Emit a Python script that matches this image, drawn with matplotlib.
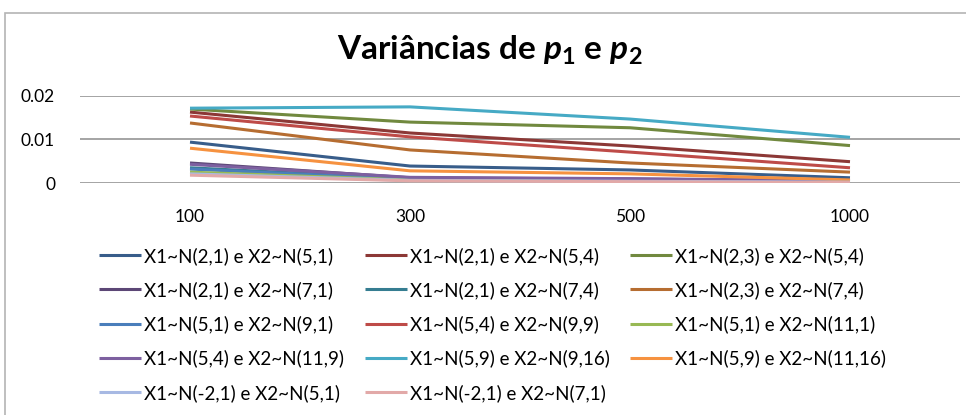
"""Variâncias de p1 e p2 -- line chart recreated from an Excel-style figure."""

import matplotlib

matplotlib.use("Agg")
import matplotlib.patches as mp  # noqa: E402
import matplotlib.pyplot as plt  # noqa: E402

plt.rcParams.update({"font.family": ["Lato", "DejaVu Sans"], "figure.dpi": 100,
                     "mathtext.fontset": "custom", "mathtext.bf": "Lato:bold",
                     "mathtext.it": "Lato:italic", "mathtext.rm": "Lato",
                     "mathtext.bfit": "Lato:bold:italic"})

sizes = ["100", "300", "500", "1000"]

labels = ["X1~N(2,1) e X2~N(5,1)", "X1~N(2,1) e X2~N(5,4)", "X1~N(2,3) e X2~N(5,4)",
          "X1~N(2,1) e X2~N(7,1)", "X1~N(2,1) e X2~N(7,4)", "X1~N(2,3) e X2~N(7,4)",
          "X1~N(5,1) e X2~N(9,1)", "X1~N(5,4) e X2~N(9,9)", "X1~N(5,1) e X2~N(11,1)",
          "X1~N(5,4) e X2~N(11,9)", "X1~N(5,9) e X2~N(9,16)", "X1~N(5,9) e X2~N(11,16)",
          "X1~N(-2,1) e X2~N(5,1)", "X1~N(-2,1) e X2~N(7,1)"]

v_21_51 = [0.0094, 0.0039, 0.0030, 0.0012]
v_21_54 = [0.0163, 0.0115, 0.0085, 0.0049]
v_23_54 = [0.0170, 0.0140, 0.0127, 0.0086]
v_21_71 = [0.0046, 0.0012, 0.0009, 0.0005]
v_21_74 = [0.0035, 0.0010, 0.0008, 0.0004]
v_23_74 = [0.0138, 0.0076, 0.0046, 0.0025]
v_51_91 = [0.0032, 0.0009, 0.0007, 0.0003]
v_54_99 = [0.0154, 0.0106, 0.0071, 0.0035]
v_51_111 = [0.0025, 0.0007, 0.0005, 0.0002]
v_54_119 = [0.0043, 0.0013, 0.0010, 0.0005]
v_59_916 = [0.0172, 0.0175, 0.0147, 0.0105]
v_59_1116 = [0.0080, 0.0028, 0.0021, 0.0007]
v_m21_51 = [0.0021, 0.0006, 0.0004, 0.0002]
v_m21_71 = [0.0018, 0.0005, 0.0003, 0.0001]

series = [v_21_51, v_21_54, v_23_54, v_21_71, v_21_74, v_23_74, v_51_91, v_54_99,
          v_51_111, v_54_119, v_59_916, v_59_1116, v_m21_51, v_m21_71]

colors = ["#385D8A", "#8C3836", "#71893F", "#5C4776", "#357D91", "#B66D31",
          "#4A7EBB", "#BE4B48", "#98B954", "#7D60A0", "#46AAC5", "#F69240",
          "#A7B9E3", "#E2A9A8"]

fig = plt.figure(figsize=(9.66, 4.15))
W, H = 966, 415
ax = fig.add_axes([80 / W, 1 - 183 / H, 880 / W, 87 / H])

x = list(range(len(sizes)))
lines = []
for vals, col, lab in zip(series, colors, labels):
    ln, = ax.plot(x, vals, color=col, lw=2.2, label=lab, solid_capstyle="butt")
    lines.append(ln)

ax.set_xlim(-0.5, len(sizes) - 0.5)
ax.set_ylim(0, 0.02)
ax.set_yticks([0, 0.01, 0.02])
ax.set_yticklabels(["0", "0.01", "0.02"])
ax.set_xticks(x)
ax.set_xticklabels(sizes)
ax.tick_params(length=0, labelsize=12.5, pad=19)
ax.tick_params(axis="y", pad=18)
ax.yaxis.grid(True, color="#8c8c8c", lw=1.1)
ax.set_axisbelow(True)
for s in ax.spines.values():
    s.set_visible(False)

fig.text(490 / W, 1 - 50 / H, r"Variâncias de $\mathbfit{p}_{\mathbf{1}}$ e $\mathbfit{p}_{\mathbf{2}}$",
         ha="center", va="center", fontsize=24, fontweight="bold")

# Excel fills the legend row by row; matplotlib fills column by column
order = [0, 3, 6, 9, 12, 1, 4, 7, 10, 13, 2, 5, 8, 11]
fig.legend([lines[i] for i in order], [labels[i] for i in order], ncol=3,
           loc="upper left", bbox_to_anchor=(82 / W, 1 - 230 / H), frameon=False,
           fontsize=13.5, handlelength=2.25, handletextpad=0.15, columnspacing=1.1,
           labelspacing=0.87)

fig.add_artist(mp.Rectangle((5 / W, -0.1), 1.0, 1.1 - 13 / H, transform=fig.transFigure,
                            fill=False, ec="#b4b4b4", lw=1.2))

fig.savefig("out.png", dpi=100)
